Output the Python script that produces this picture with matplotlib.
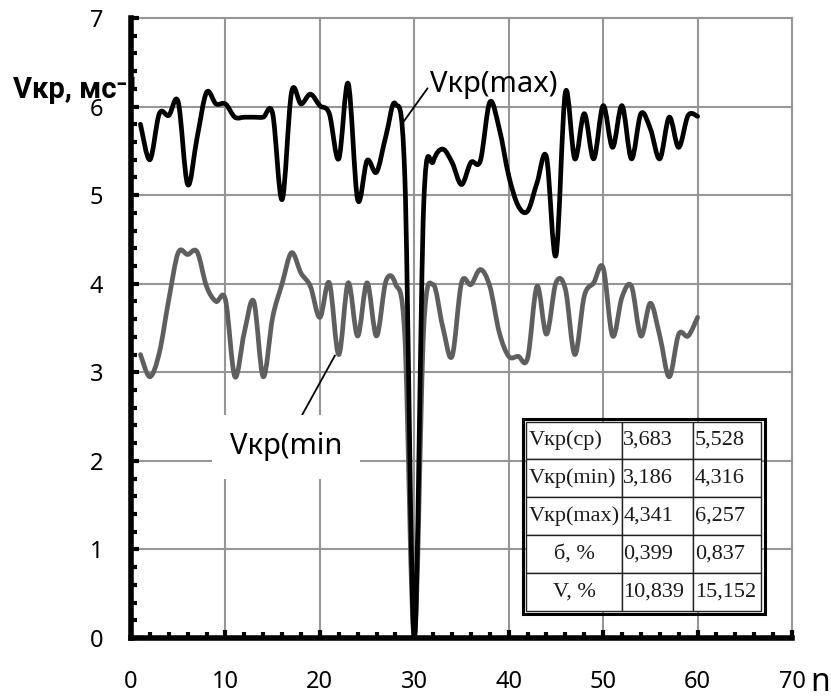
import numpy as np
import matplotlib
matplotlib.use('Agg')
import matplotlib.pyplot as plt
from matplotlib.path import Path
from matplotlib.patches import PathPatch, Rectangle
from matplotlib.ticker import MultipleLocator

plt.rcParams['font.family'] = ['Noto Sans', 'DejaVu Sans']

# measurement number
n = np.arange(1, 61)

# Vkr(max), upper black curve
v_max = [5.80, 5.40, 5.92, 5.90, 6.05, 5.12, 5.65, 6.16, 6.03, 6.03,
         5.88, 5.88, 5.88, 5.88, 5.92, 4.95, 6.16, 6.03, 6.14, 6.01,
         5.92, 5.41, 6.26, 4.95, 5.39, 5.26, 5.67, 6.03, 5.20, 0.00,
         4.90, 5.38, 5.52, 5.37, 5.12, 5.37, 5.39, 6.05, 5.75, 5.22,
         4.88, 4.82, 5.14, 5.43, 4.32, 6.16, 5.41, 5.92, 5.41, 6.01,
         5.54, 6.01, 5.41, 5.92, 5.75, 5.41, 5.88, 5.54, 5.90, 5.89]

# Vkr(min), lower gray curve
v_min = [3.20, 2.95, 3.22, 3.82, 4.35, 4.33, 4.36, 3.97, 3.80, 3.82,
         2.95, 3.45, 3.80, 2.95, 3.62, 4.00, 4.35, 4.12, 3.97, 3.62,
         4.01, 3.20, 4.01, 3.41, 4.01, 3.41, 4.03, 4.00, 3.40, 0.00,
         3.50, 3.99, 3.52, 3.18, 4.01, 3.99, 4.16, 3.97, 3.45, 3.18,
         3.18, 3.16, 3.97, 3.43, 4.01, 3.94, 3.20, 3.86, 4.01, 4.18,
         3.41, 3.85, 3.97, 3.41, 3.78, 3.41, 2.95, 3.43, 3.41, 3.62]

# statistics table
row_labels = ['Vкр(ср)', 'Vкр(min)', 'Vкр(max)', 'б, %', 'V, %']
col_min = ['3,683', '3,186', '4,341', '0,399', '10,839']
col_max = ['5,528', '4,316', '6,257', '0,837', '15,152']


def smooth_path(x, y):
    # excel-like smoothed line: catmull-rom segments as cubic beziers
    x = np.asarray(x, float)
    y = np.asarray(y, float)
    k = len(x)
    verts = [(x[0], y[0])]
    codes = [Path.MOVETO]
    for i in range(k - 1):
        i0 = max(i - 1, 0)
        i3 = min(i + 2, k - 1)
        c1 = (x[i] + (x[i + 1] - x[i0]) / 6., y[i] + (y[i + 1] - y[i0]) / 6.)
        c2 = (x[i + 1] - (x[i3] - x[i]) / 6., y[i + 1] - (y[i3] - y[i]) / 6.)
        verts += [c1, c2, (x[i + 1], y[i + 1])]
        codes += [Path.CURVE4] * 3
    return Path(verts, codes)


fig = plt.figure(figsize=(8.31, 6.99), dpi=100)
ax = fig.add_axes([131 / 831, 1 - 638 / 699, 661 / 831, 620 / 699])

ax.set_xlim(0, 70)
ax.set_ylim(0, 7)
ax.xaxis.set_major_locator(MultipleLocator(10))
ax.xaxis.set_minor_locator(MultipleLocator(2))
ax.yaxis.set_major_locator(MultipleLocator(1))
ax.yaxis.set_minor_locator(MultipleLocator(0.2))
ax.grid(which='major', color='#969696', lw=1.5)
ax.set_axisbelow(True)
for gl in ax.get_xgridlines() + ax.get_ygridlines():
    gl.set_clip_on(False)

for s in ['top', 'right']:
    ax.spines[s].set_visible(False)
for s in ['left', 'bottom']:
    ax.spines[s].set_linewidth(4)
    ax.spines[s].set_zorder(5)

ax.tick_params(which='both', direction='in', color='black', labelsize=17)
ax.tick_params(which='major', length=6, width=3)
ax.tick_params(which='minor', length=4, width=3)
ax.tick_params(axis='x', which='major', pad=23)
ax.tick_params(axis='y', which='major', pad=20)

ax.add_patch(PathPatch(smooth_path(n, v_min), fill=False, ec='#5f5f5f', lw=3.4,
                       capstyle='round', joinstyle='round', zorder=3))
ax.add_patch(PathPatch(smooth_path(n, v_max), fill=False, ec='black', lw=3.4,
                       capstyle='round', joinstyle='round', zorder=4))

ax.annotate('Vкр(max)', xy=(28.6, 5.79), xytext=(31.7, 6.25), ha='left', va='center',
            fontsize=21, zorder=6,
            arrowprops=dict(arrowstyle='-', lw=1.3, color='black', shrinkA=0, shrinkB=0,
                            relpos=(0, 0.5)))
ax.annotate('Vкр(min', xy=(21.6, 3.19), xytext=(16.4, 2.16), ha='center', va='center',
            fontsize=21, zorder=6,
            bbox=dict(boxstyle='square,pad=0.6', fc='white', ec='none'),
            arrowprops=dict(arrowstyle='-', lw=1.3, color='black', shrinkA=0, shrinkB=0,
                            relpos=(0.56, 1)))

ax.text(-0.1785, 0.871, 'Vкр, мс⁻¹', transform=ax.transAxes, fontsize=21,
        fontweight='bold', family=['Roboto', 'DejaVu Sans'],
        ha='left', va='baseline', zorder=1, clip_on=False)
fig.text(810 / 831, 0.012, 'n', fontsize=23, ha='left', va='baseline')

cells = [[row_labels[i], col_min[i], col_max[i]] for i in range(len(row_labels))]
tbl = ax.table(cellText=cells, cellLoc='left', colWidths=[95.7, 72.3, 68],
               bbox=[0.5983, 0.0435, 0.3548, 0.3056])
tbl.auto_set_font_size(False)
tbl.set_fontsize(16)
tbl.set_zorder(7)
for (r, c), cell in tbl.get_celld().items():
    cell.set_edgecolor('#222222')
    cell.set_linewidth(1)
    cell.set_facecolor('white')
    cell.PAD = 0.025
    cell.get_text().set_fontfamily(['Liberation Serif', 'DejaVu Serif'])
    cell.get_text().set_color('#1a1a1a')
    if c == 0 and r >= 3:
        cell._loc = 'center'
        cell.get_text().set_ha('center')

ax.add_patch(Rectangle((0.5935, 0.039), 0.3654, 0.3147, transform=ax.transAxes,
                       fill=False, ec='black', lw=2.2, zorder=8, clip_on=False))

fig.savefig('out.png', dpi=100)
